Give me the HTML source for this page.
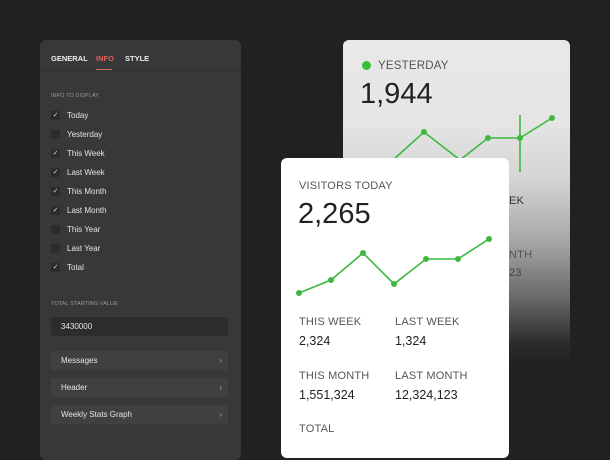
<!DOCTYPE html>
<html><head><style>
*{margin:0;padding:0;box-sizing:border-box}
body{width:610px;height:440px;background:#212121;position:relative;overflow:hidden;font-family:"Liberation Sans",sans-serif}
.p{position:absolute}
#panel{left:40px;top:40px;width:201px;height:420px;background:#37383a;border-radius:6px}
.tab{position:absolute;top:14px;font-size:7.5px;font-weight:bold;color:#eee}
.lbl{position:absolute;left:11px;font-size:5.5px;color:#9a9a9a;letter-spacing:.1px}
.cb{position:absolute;left:11px;width:9px;height:9px;background:#2b2c2e;border-radius:1px;color:#ddd;font-size:7px;line-height:9px;text-align:center}
.ct{position:absolute;left:27px;font-size:8px;color:#e4e4e4}
.btn{position:absolute;left:11px;width:177px;height:19px;background:#3f4042;border-radius:2px;font-size:8px;color:#e4e4e4;padding-left:10px;line-height:19px}
.btn span{position:absolute;right:6px;color:#aaa}
#back{left:343px;top:40px;width:227px;height:330px;border-radius:6px;background:linear-gradient(#e8e8e8 0,#e6e6e6 80px,#d4d4d4 140px,#a8a8a8 200px,#666 260px,#2a2a2a 305px,#212121 325px)}
#front{left:281px;top:158px;width:228px;height:300px;border-radius:6px;background:#fff}
.sm{position:absolute;font-size:11px;color:#555;letter-spacing:.2px}
.val{position:absolute;font-size:12.5px;color:#222}
</style></head><body>
<div id="panel" class="p">
<div class="tab" style="left:11px;top:14px">GENERAL</div>
<div class="tab" style="left:56px;color:#e0605a">INFO</div>
<div class="tab" style="left:85px">STYLE</div>
<div class="p" style="left:56px;top:29px;width:16px;height:1.5px;background:#d0706a"></div>
<div class="p" style="left:0;top:30px;width:201px;height:1px;background:#313234"></div>
<div class="lbl" style="top:53px">INFO TO DISPLAY</div>
<div class="cb" style="top:71px">✓</div><div class="ct" style="top:71px">Today</div>
<div class="cb" style="top:90px"></div><div class="ct" style="top:90px">Yesterday</div>
<div class="cb" style="top:109px">✓</div><div class="ct" style="top:109px">This Week</div>
<div class="cb" style="top:128px">✓</div><div class="ct" style="top:128px">Last Week</div>
<div class="cb" style="top:147px">✓</div><div class="ct" style="top:147px">This Month</div>
<div class="cb" style="top:166px">✓</div><div class="ct" style="top:166px">Last Month</div>
<div class="cb" style="top:185px"></div><div class="ct" style="top:185px">This Year</div>
<div class="cb" style="top:204px"></div><div class="ct" style="top:204px">Last Year</div>
<div class="cb" style="top:223px">✓</div><div class="ct" style="top:223px">Total</div>
<div class="lbl" style="top:261px">TOTAL STARTING VALUE</div>
<div class="p" style="left:11px;top:277px;width:177px;height:19px;background:#2b2c2e;border-radius:2px;font-size:8px;color:#e4e4e4;padding-left:10px;line-height:19px">3430000</div>
<div class="btn" style="top:311px">Messages<span>›</span></div>
<div class="btn" style="top:338px">Header<span>›</span></div>
<div class="btn" style="top:365px">Weekly Stats Graph<span>›</span></div>
</div>
<div id="back" class="p">
<div class="p" style="left:19px;top:21px;width:9px;height:9px;border-radius:50%;background:#34c13a"></div>
<div class="sm" style="left:35px;top:20px;font-size:11.5px">YESTERDAY</div>
<div class="p" style="left:17px;top:38px;font-size:29px;color:#222">1,944</div>
<div class="sm" style="left:166px;top:155px;color:#333">EK</div>
<div class="sm" style="left:166px;top:209px;color:#555">NTH</div>
<div class="sm" style="left:166px;top:227px;color:#444">23</div>
<svg class="p" style="left:0;top:0" width="227" height="200"><g stroke="#3cb83f" stroke-width="1.6" fill="#3cb83f">
<polyline fill="none" points="50,120 81,92 117,120 145,98 177,98 209,78"/>
<line x1="177" y1="75" x2="177" y2="132"/>
<circle cx="81" cy="92" r="2.2"/><circle cx="145" cy="98" r="2.2"/><circle cx="177" cy="98" r="2.2"/><circle cx="209" cy="78" r="2.2"/></g></svg>
</div>
<div id="front" class="p">
<div class="sm" style="left:18px;top:22px">VISITORS TODAY</div>
<div class="p" style="left:17px;top:40px;font-size:29px;color:#222">2,265</div>
<svg class="p" style="left:0;top:0" width="228" height="160"><g stroke="#3cb83f" stroke-width="1.6" fill="#3cb83f">
<polyline fill="none" points="18,135 50,122 82,95 113,126 145,101 177,101 208,81"/>
<circle cx="18" cy="135" r="2.2"/><circle cx="50" cy="122" r="2.2"/><circle cx="82" cy="95" r="2.2"/><circle cx="113" cy="126" r="2.2"/><circle cx="145" cy="101" r="2.2"/><circle cx="177" cy="101" r="2.2"/><circle cx="208" cy="81" r="2.2"/></g></svg>
<div class="sm" style="left:18px;top:158px">THIS WEEK</div><div class="val" style="left:18px;top:176px">2,324</div>
<div class="sm" style="left:114px;top:158px">LAST WEEK</div><div class="val" style="left:114px;top:176px">1,324</div>
<div class="sm" style="left:18px;top:212px">THIS MONTH</div><div class="val" style="left:18px;top:230px">1,551,324</div>
<div class="sm" style="left:114px;top:212px">LAST MONTH</div><div class="val" style="left:114px;top:230px">12,324,123</div>
<div class="sm" style="left:18px;top:265px">TOTAL</div>
</div>
</body></html>
